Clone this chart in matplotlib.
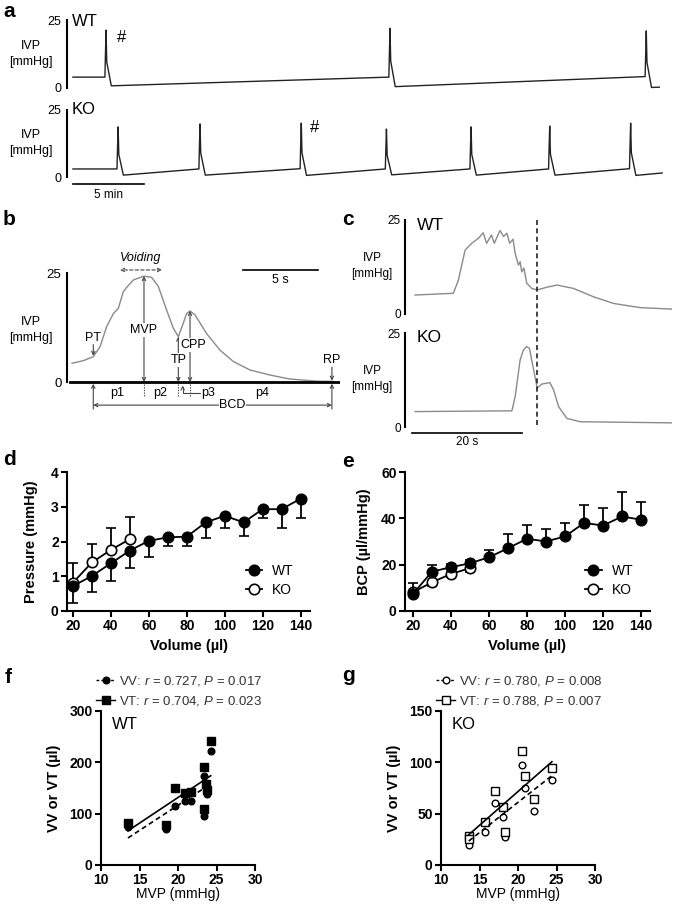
import numpy as np
import matplotlib
matplotlib.use("Agg")
import matplotlib.pyplot as plt

plt.rcParams['font.family'] = ['Liberation Sans', 'DejaVu Sans']
plt.rcParams['mathtext.fontset'] = 'custom'
plt.rcParams['mathtext.rm'] = 'Liberation Sans'
plt.rcParams['mathtext.it'] = 'Liberation Sans:italic'

# ---------------- data ----------------
# a: long recordings (time in min, pressure in mmHg)
wt_spike_t = [2.25, 22.25, 40.3]
wt_spike_peak = [21.3, 22.0, 21.0]
wt_pre = [4.0, 4.0, 4.2]
wt_dip = [0.8, 0.5, 0.2]
wt_end = (41.3, 0.3)
ko_spike_t = [3.1, 8.87, 16.0, 22.0, 27.96, 33.5, 39.2]
ko_spike_peak = [18.7, 19.8, 20.1, 17.9, 18.7, 19.0, 20.1]
ko_pre = [3.0, 3.0, 3.1, 3.0, 3.0, 3.0, 3.1]
ko_dip = [0.7, 0.7, 0.6, 0.8, 0.7, 0.7, 0.6]
ko_end = (41.5, 1.5)

# b: single void (time in s)
b_t = [0, 0.76, 1.42, 1.87, 2.31, 2.76, 3.09, 3.42, 3.64, 4.09, 4.8, 5.31, 5.76,
       6.31, 6.76, 7.09, 7.38, 7.64, 7.87, 8.2, 8.98, 9.87, 10.76, 11.87, 13.2,
       14.5, 16.3, 17.4]
b_p = [4.3, 4.9, 5.8, 8.1, 12.7, 15.7, 16.9, 20.7, 21.7, 23.4, 24.3, 24.0, 21.9,
       16.5, 12.3, 10.4, 13.1, 15.7, 16.3, 15.4, 11.1, 7.3, 4.7, 2.75, 1.6,
       0.7, 0.2, 0.15]
pt_t, rp_t = 1.42, 17.33
mvp_t, mvp_p = 4.8, 24.3
tp_t, tp_p = 7.09, 10.4
cpp_t, cpp_p = 7.87, 16.3

# c: single voids (time in s)
cw_t = [0, 6.97, 7.88, 9.1, 10.3, 11.5, 12.4, 13.0, 13.9, 14.4, 15.45, 16.1, 16.7,
        17.2, 17.8, 18.2, 18.8, 19.1, 19.4, 19.8, 20.3, 21.2, 22.2, 23.9, 25.8,
        28.8, 32.4, 36.1, 40.9, 46.7]
cw_p = [5.05, 5.5, 9.0, 17.0, 18.8, 20.1, 21.6, 18.8, 21.0, 18.8, 22.2, 20.6, 21.5,
        18.8, 19.9, 16.1, 13.0, 13.9, 11.2, 12.2, 8.2, 6.8, 6.4, 7.1, 7.7,
        6.8, 4.6, 2.8, 1.7, 1.3]
ck_t = [0, 17.6, 18.2, 19.1, 19.7, 20.3, 20.8, 21.2, 21.8, 22.2, 23.0, 24.5, 25.2,
        26.1, 27.6, 30, 46.7]
ck_p = [4.1, 4.3, 8.1, 17.8, 20.5, 21.4, 20.9, 17.8, 13.4, 10.3, 11.4, 11.8, 9.8,
        5.4, 2.3, 1.4, 1.1]
void_mark_t = 22.2

# d / e: cystometry vs infused volume
vol_wt = [20, 30, 40, 50, 60, 70, 80, 90, 100, 110, 120, 130, 140]
vol_ko = [20, 30, 40, 50]
press_wt = [0.72, 1.01, 1.375, 1.74, 2.02, 2.12, 2.14, 2.55, 2.74, 2.55, 2.93, 2.93, 3.23]
press_wt_err = [0.48, 0.45, 0.5, 0.5, 0.48, 0.245, 0.265, 0.45, 0.34, 0.38, 0.24, 0.53, 0.54]
press_ko = [0.82, 1.40, 1.76, 2.07]
press_ko_err = [0.55, 0.52, 0.62, 0.63]
bcp_wt = [7.4, 17.0, 18.9, 20.6, 23.2, 27.1, 31.2, 30.0, 32.2, 38.0, 36.9, 40.8, 39.4]
bcp_wt_err = [4.9, 2.9, 1.5, 1.5, 3.2, 6.1, 6.0, 5.5, 5.8, 7.9, 7.5, 10.4, 7.5]
bcp_ko = [8.1, 12.4, 16.0, 18.5]
bcp_ko_err = [1.5, 1.5, 1.5, 1.5]

# f / g: correlations with MVP
mvp_wt = [13.5, 18.5, 19.55, 20.85, 21.7, 23.4, 23.4, 23.7, 23.8, 24.25]
vv_wt = [74, 70, 114, 124, 125, 173, 95, 152, 139, 222]
vt_wt = [82, 78, 150, 141, 143, 190, 110, 158, 147, 242]
mvp_ko = [13.6, 13.7, 15.7, 17.0, 18.1, 18.25, 20.5, 20.9, 22.1, 24.4]
vv_ko = [23.8, 19.6, 32, 60.6, 46.6, 27, 97, 75, 53, 83]
vt_ko = [28, 25, 41.7, 71.7, 56.4, 32, 111, 86.7, 64.6, 94.9]
stats_wt = ["VV: $r$ = 0.727, $P$ = 0.017", "VT: $r$ = 0.704, $P$ = 0.023"]
stats_ko = ["VV: $r$ = 0.780, $P$ = 0.008", "VT: $r$ = 0.788, $P$ = 0.007"]

# ---------------- figure ----------------
W, H = 675, 906
fig = plt.figure(figsize=(W / 100, H / 100), dpi=100)


def box(x0, y0, x1, y1):
    return fig.add_axes([x0 / W, 1 - y1 / H, (x1 - x0) / W, (y1 - y0) / H])


def ftext(x, y, s, **kw):
    kw.setdefault('va', 'center')
    fig.text(x / W, 1 - y / H, s, **kw)


def trace_axis(ax, xlim, tick_size=9):
    ax.set_xlim(*xlim)
    ax.set_ylim(0, 25)
    for s in ['top', 'right', 'bottom']:
        ax.spines[s].set_visible(False)
    ax.spines['left'].set_linewidth(1.5)
    ax.set_xticks([])
    ax.set_yticks([0, 25])
    ax.tick_params(axis='y', length=0, pad=4, labelsize=tick_size)
    ax.patch.set_alpha(0)


def spike_trace(spikes, peaks, pre, dip, end):
    # vertices of a void: rise, peak, fall, post-void dip
    ts, ps = [0], [pre[0]]
    for t, pk, b, d in zip(spikes, peaks, pre, dip):
        ts += [t, t + 0.04, t + 0.08, t + 0.13, t + 0.45]
        ps += [b, pk * 0.6, pk, pk * 0.45, d]
    ts.append(end[0])
    ps.append(end[1])
    return ts, ps


# panel labels
for lab, x, y in [('a', 3, 17), ('b', 3, 225), ('c', 342, 225), ('d', 3, 465),
                  ('e', 342, 467), ('f', 5, 683), ('g', 342, 681)]:
    ftext(x, y, lab, fontsize=15, fontweight='bold', va='baseline')

# ---- a ----
axa1 = box(67, 20, 665, 88)
axa2 = box(67, 110, 665, 177)
for ax in (axa1, axa2):
    trace_axis(ax, (-0.42, 41.7))
t, p = spike_trace(wt_spike_t, wt_spike_peak, wt_pre, wt_dip, wt_end)
axa1.plot(t, p, color='#222222', lw=1.0, clip_on=False)
t, p = spike_trace(ko_spike_t, ko_spike_peak, ko_pre, ko_dip, ko_end)
axa2.plot(t, p, color='#222222', lw=1.0, clip_on=False)
axa1.text(3.1, 18.4, '#', fontsize=12, va='center')
axa2.text(16.7, 18.3, '#', fontsize=12, va='center')
ftext(72, 21, 'WT', fontsize=12)
ftext(72, 110, 'KO', fontsize=12)
ftext(31, 54, 'IVP\n[mmHg]', fontsize=9, ha='center', linespacing=1.4)
ftext(31, 143, 'IVP\n[mmHg]', fontsize=9, ha='center', linespacing=1.4)
axa2.plot([0, 5], [-2.6, -2.6], color='k', lw=1.2, clip_on=False)
axa2.text(2.5, -4.3, '5 min', fontsize=8.5, ha='center', va='top')

# ---- b ----
axb = box(67, 250, 340, 412)
axb.set_xlim(-0.333, 17.87)
axb.set_ylim(-6.88, 30.28)
for s in ['top', 'right', 'bottom']:
    axb.spines[s].set_visible(False)
axb.spines['left'].set_linewidth(1.5)
axb.spines['left'].set_bounds(0, 25)
axb.set_xticks([])
axb.set_yticks([0, 25])
axb.tick_params(axis='y', length=0, pad=4, labelsize=9.5)
axb.plot([-0.1, 17.87], [0, 0], color='k', lw=2, zorder=3)
axb.plot(b_t, b_p, color='#8a8a8a', lw=1.0)
ftext(31, 330, 'IVP\n[mmHg]', fontsize=9, ha='center', linespacing=1.4)

arr = dict(arrowstyle='->', color='#444444', lw=0.8, shrinkA=0, shrinkB=0,
           mutation_scale=6)
darr = dict(arrowstyle='<->', color='#444444', lw=0.8, shrinkA=0, shrinkB=0,
            mutation_scale=6)
tkw = dict(fontsize=9, ha='center', va='center')
wbox = dict(facecolor='white', edgecolor='none', pad=0.5)
row = -2.5
axb.annotate('', xy=(mvp_t, mvp_p), xytext=(mvp_t, 0), arrowprops=darr)
axb.text(mvp_t, 11.9, 'MVP', bbox=wbox, **tkw)
axb.annotate('', xy=(tp_t, tp_p), xytext=(tp_t, 0), arrowprops=darr)
axb.text(tp_t, 5.0, 'TP', bbox=wbox, **tkw)
axb.annotate('', xy=(cpp_t, cpp_p), xytext=(cpp_t, 0), arrowprops=darr)
axb.text(8.07, 8.5, 'CPP', bbox=wbox, **tkw)
axb.annotate('', xy=(pt_t, 6.0), xytext=(pt_t, 8.6), arrowprops=arr)
axb.text(pt_t, 10.1, 'PT', **tkw)
axb.annotate('', xy=(rp_t, 0.3), xytext=(rp_t, 3.4), arrowprops=arr)
axb.text(rp_t, 5.0, 'RP', **tkw)
dash_arr = dict(arrowstyle='<->', color='#444444', lw=0.8, ls=(0, (3, 2)),
                shrinkA=0, shrinkB=0, mutation_scale=6)
axb.annotate('', xy=(3.2, 25.7), xytext=(6.0, 25.7), arrowprops=dash_arr)
axb.text(4.6, 28.4, 'Voiding', style='italic', **tkw)
axb.plot([11.4, 16.4], [25.7, 25.7], color='k', lw=1.2)
axb.text(13.9, 23.4, '5 s', **tkw)
for tt in (mvp_t, tp_t, cpp_t):
    axb.plot([tt, tt], [-0.4, -3.2], color='#444444', lw=0.8, ls=(0, (1.2, 1.2)))
for tt in (pt_t, rp_t):
    axb.annotate('', xy=(tt, -0.4), xytext=(tt, -6.2), arrowprops=arr)
axb.annotate('', xy=(7.38, -0.8), xytext=(8.55, row), arrowprops=dict(
    arrowstyle='->', color='#444444', lw=0.8, shrinkA=0, shrinkB=0,
    mutation_scale=6, connectionstyle='angle,angleA=0,angleB=90,rad=0'))
axb.text(3.0, row, 'p1', **tkw)
axb.text(5.9, row, 'p2', **tkw)
axb.text(8.6, row, 'p3', fontsize=9, ha='left', va='center')
axb.text(12.7, row, 'p4', **tkw)
axb.annotate('', xy=(pt_t, -5.3), xytext=(rp_t, -5.3), arrowprops=darr)
axb.text(10.7, -5.3, 'BCD', bbox=wbox, **tkw)

# ---- c ----
axc1 = box(405, 220, 672, 314)
axc2 = box(405, 333, 672, 427)
for ax in (axc1, axc2):
    trace_axis(ax, (-1.82, 46.7), tick_size=8.5)
    ax.tick_params(axis='y', pad=3)
axc1.plot(cw_t, cw_p, color='#8a8a8a', lw=1.0)
axc2.plot(ck_t, ck_p, color='#8a8a8a', lw=1.0)
ftext(417, 225, 'WT', fontsize=12.5)
ftext(417, 337, 'KO', fontsize=12.5)
ftext(372, 266, 'IVP\n[mmHg]', fontsize=8.5, ha='center', linespacing=1.4)
ftext(372, 379, 'IVP\n[mmHg]', fontsize=8.5, ha='center', linespacing=1.4)
axc3 = box(405, 215, 672, 450)
axc3.set_xlim(-1.82, 46.7)
axc3.set_ylim(0, 1)
axc3.axis('off')
axc3.plot([void_mark_t, void_mark_t], [0.979, 0.094], color='#222222', lw=1.2,
          ls=(0, (3, 2)))
axc3.plot([-0.5, 19.5], [0.072, 0.072], color='k', lw=1.2)
axc3.text(9.5, 0.033, '20 s', fontsize=8.5, ha='center', va='center')


# ---- d / e ----
def style_xy(ax):
    for s in ['top', 'right']:
        ax.spines[s].set_visible(False)
    for s in ['left', 'bottom']:
        ax.spines[s].set_linewidth(1.5)
    ax.tick_params(length=4, width=1.5, labelsize=10, pad=2)
    for lbl in ax.get_xticklabels() + ax.get_yticklabels():
        lbl.set_fontweight('bold')
    ax.patch.set_alpha(0)


axd = box(67, 472, 310, 611)
axe = box(405, 472, 650, 611)
mk = dict(marker='o', ms=7.5, mec='k', mew=1.2, color='k', lw=1.3,
          capsize=3.5, elinewidth=1.3, capthick=1.3)
zero_wt = [0] * len(vol_wt)
zero_ko = [0] * len(vol_ko)
axd.errorbar(vol_wt, press_wt, yerr=[press_wt_err, zero_wt], mfc='k', label='WT',
             zorder=3, **mk)
axd.errorbar(vol_ko, press_ko, yerr=[zero_ko, press_ko_err], mfc='white', label='KO',
             zorder=2, **mk)
axd.set_xlim(16.8, 145)
axd.set_ylim(0, 4)
axd.set_yticks([0, 1, 2, 3, 4])
axd.set_xticks(range(20, 141, 20))
axd.set_ylabel('Pressure (mmHg)', fontsize=10.5, fontweight='bold', labelpad=9)
axd.set_xlabel('Volume (µl)', fontsize=10.5, fontweight='bold', labelpad=4)

axe.errorbar(vol_wt, bcp_wt, yerr=[zero_wt, bcp_wt_err], mfc='k', label='WT',
             zorder=3, **mk)
axe.errorbar(vol_ko, bcp_ko, yerr=[bcp_ko_err, zero_ko], mfc='white', label='KO',
             zorder=2, **mk)
axe.set_xlim(15.8, 144.7)
axe.set_ylim(0, 60)
axe.set_yticks([0, 20, 40, 60])
axe.set_xticks(range(20, 141, 20))
axe.set_ylabel('BCP (µl/mmHg)', fontsize=10.5, fontweight='bold', labelpad=7)
axe.set_xlabel('Volume (µl)', fontsize=10.5, fontweight='bold', labelpad=4)
for ax in (axd, axe):
    style_xy(ax)
    h, l = ax.get_legend_handles_labels()
    h = [hh[0] for hh in h]
    ax.legend(h, l, loc='lower left', bbox_to_anchor=(0.735, 0.1), frameon=False,
              fontsize=10, handlelength=1.2, handletextpad=0.7, labelspacing=0.4,
              borderpad=0, borderaxespad=0)

# ---- f / g ----
axf = box(101, 711, 255, 865)
axg = box(441, 711, 595, 865)
panels = [(axf, mvp_wt, vv_wt, vt_wt, 'k', stats_wt, (0, 300), [0, 100, 200, 300], 'WT'),
          (axg, mvp_ko, vv_ko, vt_ko, 'white', stats_ko, (0, 150), [0, 50, 100, 150], 'KO')]
for ax, x, vv, vt, fc, stats, ylim, yt, name in panels:
    xs = np.array([min(x), max(x)])
    c_vv = np.polyfit(x, vv, 1)
    c_vt = np.polyfit(x, vt, 1)
    ax.plot(x, vv, 'o', ms=4.8, mfc=fc, mec='k', mew=1.0, ls='none')
    ax.plot(x, vt, 's', ms=5.2, mfc=fc, mec='k', mew=1.0, ls='none')
    ax.plot(xs, np.polyval(c_vv, xs), color='k', lw=1.2, ls=(0, (3, 2)))
    ax.plot(xs, np.polyval(c_vt, xs), color='k', lw=1.2)
    h_vv, = ax.plot([], [], marker='o', ms=4.8, mfc=fc, mec='k', mew=1.0, color='k',
                    lw=1.0, ls=(0, (2, 1.5)))
    h_vt, = ax.plot([], [], marker='s', ms=5.2, mfc=fc, mec='k', mew=1.0, color='k',
                    lw=1.0)
    ax.legend([h_vv, h_vt], stats, loc='lower left', bbox_to_anchor=(-0.03, 1.02),
              frameon=False, fontsize=9.5, handlelength=1.4, handletextpad=0.3,
              labelspacing=0.45, borderpad=0, borderaxespad=0, labelcolor='#333333')
    ax.set_xlim(10, 30)
    ax.set_ylim(*ylim)
    ax.set_xticks([10, 15, 20, 25, 30])
    ax.set_yticks(yt)
    ax.set_ylabel('VV or VT (µl)', fontsize=10.5, fontweight='bold', labelpad=6)
    ax.set_xlabel('MVP (mmHg)', fontsize=10, labelpad=0)
    style_xy(ax)
    ax.text(0.07, 0.91, name, transform=ax.transAxes, fontsize=12, va='center')

fig.savefig('out.png', dpi=100)
